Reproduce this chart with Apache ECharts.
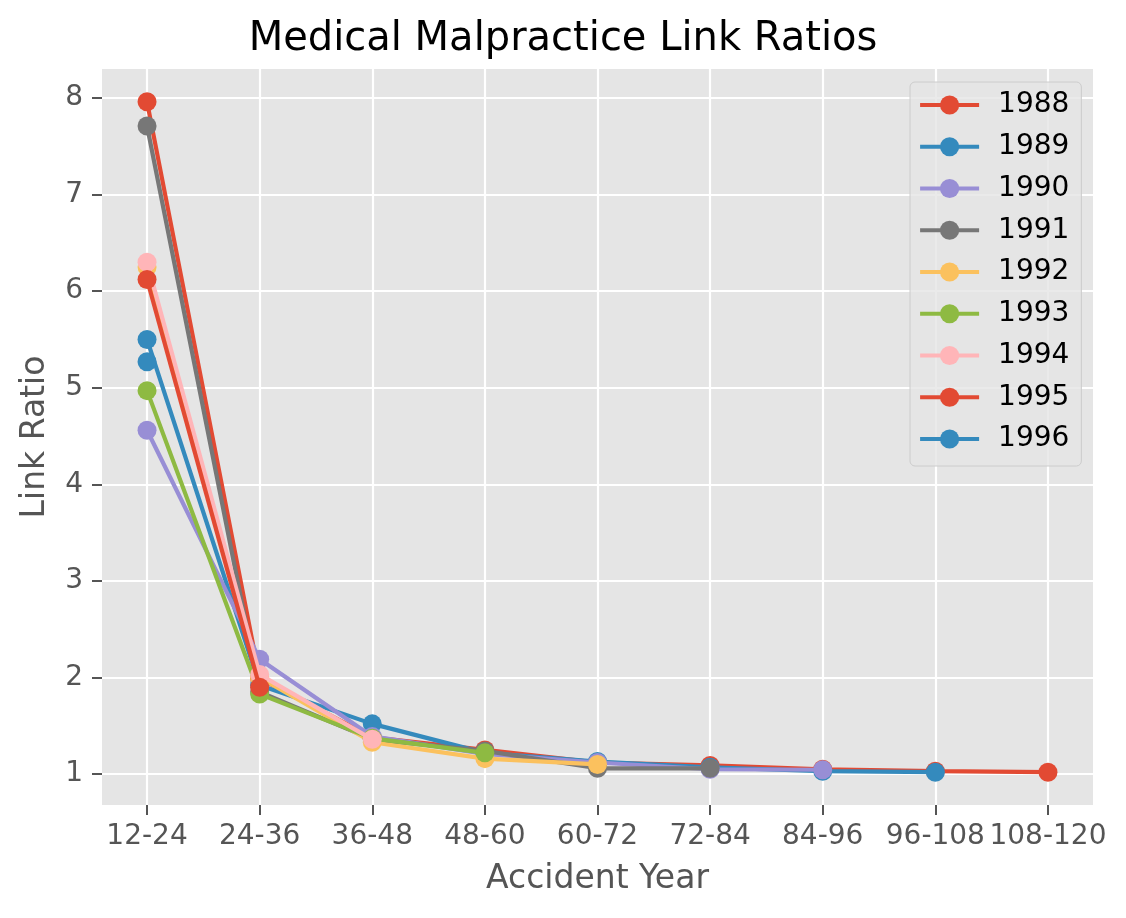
<!DOCTYPE html>
<html>
<head>
<meta charset="utf-8">
<script src="https://cdn.jsdelivr.net/npm/echarts@6/dist/echarts.min.js"></script>
<style>
html,body{margin:0;padding:0;background:#fff;}
#chart{width:1126px;height:918px;}
</style>
</head>
<body>
<div id="chart"></div>
<script>
var categories = ['12-24','24-36','36-48','48-60','60-72','72-84','84-96','96-108','108-120'];
var years = ['1988','1989','1990','1991','1992','1993','1994','1995','1996'];
var y1988 = [7.96, 1.99, 1.38, 1.25, 1.12, 1.09, 1.05, 1.03, 1.02];
var y1989 = [5.50, 1.92, 1.52, 1.22, 1.13, 1.07, 1.03, 1.02];
var y1990 = [4.56, 2.19, 1.39, 1.21, 1.12, 1.05, 1.045];
var y1991 = [7.71, 1.85, 1.36, 1.24, 1.06, 1.06];
var y1992 = [6.25, 2.00, 1.33, 1.16, 1.10];
var y1993 = [4.97, 1.83, 1.37, 1.22];
var y1994 = [6.30, 2.03, 1.36];
var y1995 = [6.12, 1.90];
var y1996 = [5.27];
var yTicks = [1, 2, 3, 4, 5, 6, 7, 8];
var seriesValues = [y1988, y1989, y1990, y1991, y1992, y1993, y1994, y1995, y1996];
var palette = ['#E24A33', '#348ABD', '#988ED5', '#777777', '#FBC15E', '#8EBA42', '#FFB5B8'];

var FONT = 'DejaVu Sans';
var chart = echarts.init(document.getElementById('chart'), null, {renderer: 'canvas'});

var series = seriesValues.map(function (vals, i) {
  var c = palette[i % palette.length];
  return {
    name: years[i],
    type: 'line',
    data: vals.map(function (v, j) { return [j, v]; }),
    symbol: 'circle',
    symbolSize: 19,
    z: 3 + i,
    itemStyle: {color: c},
    lineStyle: {color: c, width: 4.2},
    emphasis: {disabled: true},
    animation: false
  };
});

chart.setOption({
  animation: false,
  backgroundColor: '#ffffff',
  textStyle: {fontFamily: FONT},
  title: {
    text: 'Medical Malpractice Link Ratios',
    left: 'center',
    top: 20,
    padding: 0,
    textStyle: {fontFamily: FONT, fontSize: 40, fontWeight: 'normal', color: '#000000'}
  },
  grid: {
    left: 102, right: 33, top: 69, bottom: 113,
    show: true, backgroundColor: '#E5E5E5', borderWidth: 0
  },
  legend: {
    orient: 'vertical',
    left: 910,
    top: 82,
    padding: [9, 12, 13, 8],
    itemWidth: 59,
    itemHeight: 24,
    itemGap: 13.75,
    backgroundColor: 'rgba(229,229,229,0.8)',
    borderColor: '#CCCCCC',
    borderWidth: 1,
    borderRadius: 5,
    lineStyle: {width: 4.2},
    data: years,
    textStyle: {fontFamily: FONT, fontSize: 28, color: '#000000', lineHeight: 28, padding: [0, 0, 0, 14]}
  },
  xAxis: {
    type: 'value',
    min: -0.4,
    max: 8.4,
    name: 'Accident Year',
    nameLocation: 'middle',
    nameGap: 58,
    nameTextStyle: {fontFamily: FONT, fontSize: 33, color: '#555555'},
    axisLine: {show: false, onZero: false},
    axisTick: {show: true, length: 10, customValues: [0,1,2,3,4,5,6,7,8], lineStyle: {color: '#555555', width: 2}},
    axisLabel: {
      customValues: [0,1,2,3,4,5,6,7,8],
      margin: 18,
      fontFamily: FONT, fontSize: 28, color: '#555555',
      formatter: function (v) { return categories[Math.round(v)] || ''; }
    },
    splitLine: {show: true, lineStyle: {color: '#ffffff', width: 2.2}}
  },
  yAxis: {
    type: 'value',
    min: 0.68,
    max: 8.30,
    name: 'Link Ratio',
    nameLocation: 'middle',
    nameGap: 50,
    nameTextStyle: {fontFamily: FONT, fontSize: 33, color: '#555555'},
    axisLine: {show: false, onZero: false},
    axisTick: {show: true, length: 10, customValues: yTicks, lineStyle: {color: '#555555', width: 2}},
    axisLabel: {
      customValues: yTicks,
      margin: 19,
      fontFamily: FONT, fontSize: 28, color: '#555555',
      formatter: function (v) { return String(Math.round(v)); }
    },
    splitLine: {show: true, lineStyle: {color: '#ffffff', width: 2.2}}
  },
  series: series
});
</script>
</body>
</html>
